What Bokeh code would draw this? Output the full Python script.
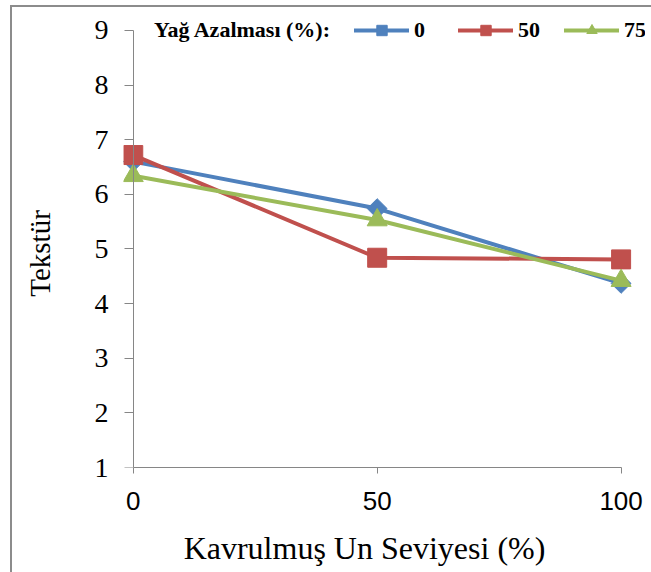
import numpy as np
from bokeh.plotting import figure
from bokeh.models import Range1d, FixedTicker, Legend, LegendItem, LinearAxis
from bokeh.embed import file_html
from bokeh.resources import INLINE

# ---- data ----
levels = [0, 50, 100]                      # Kavrulmuş Un Seviyesi (%)
y_ticks = [1, 2, 3, 4, 5, 6, 7, 8, 9]
legend_title = "Yağ Azalması (%):"
series_names = ["0", "50", "75"]           # Yağ Azalması (%)
values_0 = [6.60, 5.74, 4.37]
values_50 = [6.72, 4.84, 4.81]
values_75 = [6.34, 5.53, 4.42]
series_values = [values_0, values_50, values_75]
x_title = "Kavrulmuş Un Seviyesi (%)"
y_title = "Tekstür"

colors = ["#4F81BD", "#C0504D", "#9BBB59"]
markers = ["square", "square", "triangle"]
angles = [np.pi / 4, 0.0, 0.0]
sizes = [14, 19, 20]

SERIF = "Liberation Serif"
SANS = "Liberation Sans"
AXIS_COLOR = "#868686"
BORDER = "#8C8C8C"
NBSP = "\u00a0"

p = figure(
    width=651, height=572,
    x_range=Range1d(-2, 105), y_range=Range1d(1, 9.366),
    output_backend="svg", toolbar_location=None,
    min_border_left=123, min_border_right=6,
    min_border_top=10, min_border_bottom=105,
)
p.styles = {"box-shadow": (f"inset 10px 0 0 0 #FFFFFF, inset 0 5px 0 0 #FFFFFF, "
                           f"inset 12px 0 0 0 {BORDER}, inset 0 7px 0 0 {BORDER}")}
p.background_fill_color = "white"
p.border_fill_color = None
p.outline_line_color = None
p.xgrid.grid_line_color = None
p.ygrid.grid_line_color = None

# invisible renderer that carries the legend heading
title_r = p.line(x=[], y=[], line_alpha=0)
items = [LegendItem(label=legend_title, renderers=[title_r])]
for name, vals, c, m, a, s in zip(series_names, series_values, colors, markers, angles, sizes):
    r1 = p.line(levels, vals, line_color=c, line_width=4, line_join="round", line_cap="round")
    r2 = p.scatter(levels, vals, marker=m, angle=a, size=s, fill_color=c, line_color=c)
    items.append(LegendItem(label=name, renderers=[r1, r2]))

# x axis
xa = p.xaxis[0]
xa.ticker = FixedTicker(ticks=levels)
xa.bounds = (0, 100)
xa.axis_line_color = AXIS_COLOR
xa.major_tick_line_color = AXIS_COLOR
xa.major_tick_in = 0
xa.major_tick_out = 6
xa.minor_tick_line_color = None
xa.major_label_text_font = SANS
xa.major_label_text_font_size = "26px"
xa.major_label_text_color = "black"
xa.major_label_standoff = 18
xa.axis_label = x_title + NBSP * 5
xa.axis_label_text_font = SERIF
xa.axis_label_text_font_size = "32px"
xa.axis_label_text_font_style = "normal"
xa.axis_label_text_color = "black"
xa.axis_label_standoff = 17

# y axis: labels at the frame edge
ya = p.yaxis[0]
ya.ticker = FixedTicker(ticks=y_ticks)
ya.bounds = (1, 9)
ya.axis_line_color = None
ya.major_tick_line_color = None
ya.major_tick_in = 0
ya.major_tick_out = 0
ya.minor_tick_line_color = None
ya.major_label_text_font = SERIF
ya.major_label_text_font_size = "28px"
ya.major_label_text_color = "black"
ya.major_label_standoff = 15
ya.axis_label = y_title + NBSP * 4
ya.axis_label_text_font = SERIF
ya.axis_label_text_font_size = "29px"
ya.axis_label_text_font_style = "normal"
ya.axis_label_text_color = "black"
ya.axis_label_standoff = 36

# y axis line and ticks at x = 0
ya2 = LinearAxis(fixed_location=0, bounds=(1, 9), ticker=FixedTicker(ticks=y_ticks))
ya2.axis_line_color = AXIS_COLOR
ya2.major_tick_line_color = AXIS_COLOR
ya2.major_tick_in = 0
ya2.major_tick_out = 9
ya2.minor_tick_line_color = None
ya2.major_label_text_font_size = "0px"
ya2.major_label_text_alpha = 0
ya2.major_label_standoff = 0
p.add_layout(ya2, "left")

legend = Legend(
    items=items, orientation="horizontal", location=(-29, 424),
    glyph_width=55, glyph_height=26, label_height=26, label_standoff=5, spacing=24,
    padding=0, margin=0, border_line_color=None, background_fill_alpha=0,
    label_text_font=SERIF, label_text_font_size="22px", label_text_font_style="bold",
    label_text_color="black", label_text_baseline="middle",
)
p.add_layout(legend)

open("out.html", "w").write(file_html(p, INLINE))
